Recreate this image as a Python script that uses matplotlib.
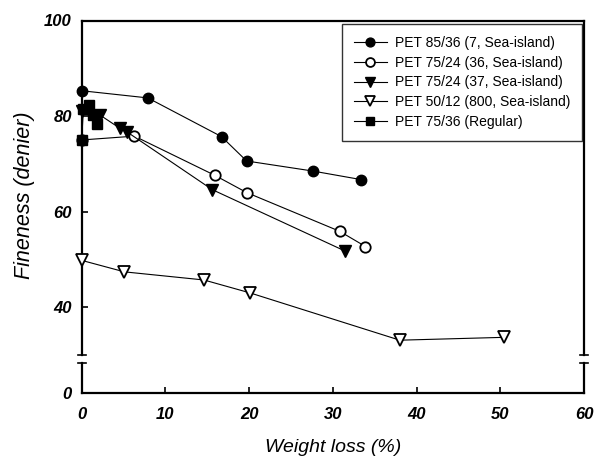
import matplotlib
matplotlib.use("Agg")
import matplotlib.pyplot as plt

plt.rcParams['font.family'] = ['Liberation Sans', 'DejaVu Sans']

# Data
labels = ["PET 85/36 (7, Sea-island)", "PET 75/24 (36, Sea-island)",
          "PET 75/24 (37, Sea-island)", "PET 50/12 (800, Sea-island)",
          "PET 75/36 (Regular)"]
x_s1 = [0, 7.9, 16.7, 19.7, 27.6, 33.4]
y_s1 = [85.3, 83.8, 75.7, 70.6, 68.5, 66.7]
x_s2 = [0, 6.3, 15.9, 19.7, 30.8, 33.9]
y_s2 = [75.0, 75.8, 67.6, 64.0, 55.9, 52.7]
x_s3 = [0, 2.2, 4.6, 5.4, 15.6, 31.4]
y_s3 = [81.0, 80.2, 77.4, 76.7, 64.6, 51.8]
x_s4 = [0, 5.1, 14.6, 20.1, 38.0, 50.5]
y_s4 = [49.8, 47.4, 45.7, 43.0, 33.1, 33.7]
x_s5 = [0, 0.2, 0.9, 1.4, 1.8]
y_s5 = [75.0, 81.5, 82.3, 80.2, 78.3]

x_ticks = [0, 10, 20, 30, 40, 50, 60]
y_ticks_upper = [40, 60, 80, 100]

W, H = 600, 459
fig = plt.figure(figsize=(W / 100, H / 100), dpi=100)
L, R = 81.7 / W, 584 / W
ax = fig.add_axes([L, 1 - 355 / H, R - L, (355 - 20.5) / H])
axb = fig.add_axes([L, 1 - 392.7 / H, R - L, (392.7 - 362.7) / H])

styles = [
    dict(marker='o', mfc='black', mec='black', ms=7.5),
    dict(marker='o', mfc='white', mec='black', ms=7.5, mew=1.3),
    dict(marker='v', mfc='black', mec='black', ms=8),
    dict(marker='v', mfc='white', mec='black', ms=8, mew=1.3),
    dict(marker='s', mfc='black', mec='black', ms=7),
]
series = [(x_s1, y_s1), (x_s2, y_s2), (x_s3, y_s3), (x_s4, y_s4), (x_s5, y_s5)]
zorders = [3, 3, 3, 3, 4]
for (xs, ys), st, lab, z in zip(series, styles, labels, zorders):
    ax.plot(xs, ys, color='black', lw=0.8, label=lab, zorder=z, clip_on=False, **st)

ax.set_xlim(0, 60)
ax.set_ylim(30, 100)
axb.set_xlim(0, 60)
axb.set_ylim(0, 6.28)

tick_font = dict(fontsize=12, fontweight='bold', fontstyle='italic')
for a in (ax, axb):
    for s in a.spines.values():
        s.set_linewidth(1.6)
ax.spines['bottom'].set_visible(False)
axb.spines['top'].set_visible(False)

ax.set_yticks(y_ticks_upper)
ax.set_yticklabels([str(v) for v in y_ticks_upper], **tick_font)
ax.tick_params(axis='y', direction='in', length=4, width=1.2, pad=7, right=False)
ax.tick_params(axis='x', bottom=False, labelbottom=False, top=False)

axb.set_yticks([0])
axb.set_yticklabels(['0'], **tick_font)
axb.tick_params(axis='y', direction='in', length=4, width=1.2, pad=7)
axb.set_xticks(x_ticks)
axb.set_xticklabels([str(v) for v in x_ticks], **tick_font)
axb.tick_params(axis='x', direction='in', length=4, width=1.2, pad=10)

# break marks
for a, yy in ((ax, 0.0), (axb, 1.0)):
    for xx in (0.0, 1.0):
        a.plot([xx - 0.008, xx + 0.008], [yy, yy], transform=a.transAxes,
               color='black', lw=1.2, clip_on=False)

fig.text((265 + 402) / 2 / W, 1 - 447 / H, 'Weight loss (%)', fontsize=14,
         fontstyle='italic', ha='center', va='center')
fig.text(25 / W, 1 - 195 / H, 'Fineness (denier)', fontsize=15.5,
         fontstyle='italic', ha='center', va='center', rotation=90)

leg = ax.legend(loc='upper right', bbox_to_anchor=(0.997, 0.9895), fontsize=10,
                frameon=True, fancybox=False, edgecolor='black', markerscale=0.85,
                handlelength=2.4, handletextpad=0.6, labelspacing=0.42,
                borderpad=0.85, borderaxespad=0)
leg.get_frame().set_linewidth(1.0)

fig.savefig('out.png', dpi=100)
